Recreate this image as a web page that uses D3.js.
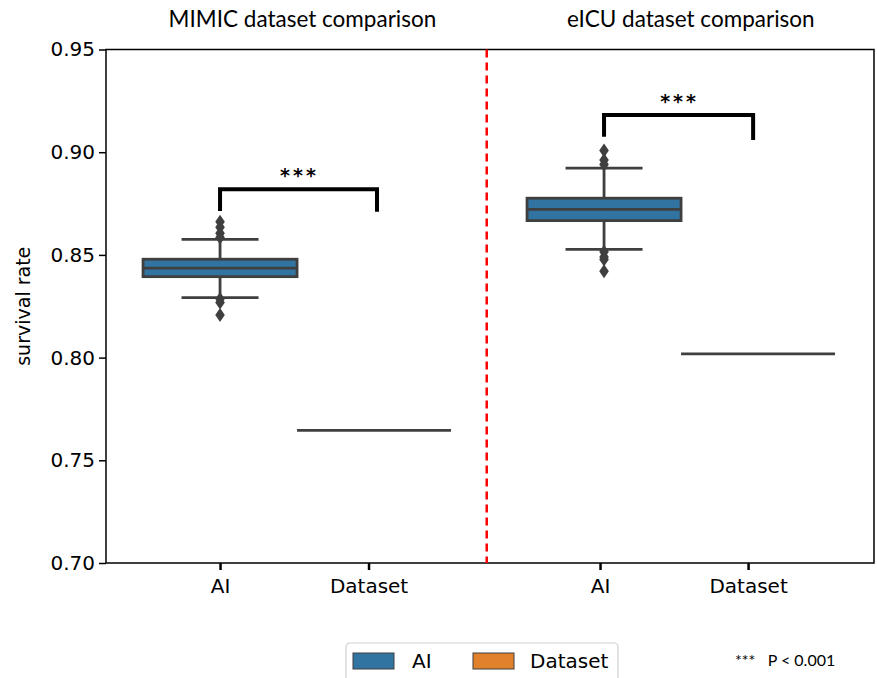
<!DOCTYPE html>
<html>
<head>
<meta charset="utf-8">
<script src="https://cdn.jsdelivr.net/npm/d3@7"></script>
<style>
  body { margin: 0; background: #fff; }
  svg { display: block; }
  .tick text { font-family: "DejaVu Sans", sans-serif; }
</style>
</head>
<body>
<svg id="chart" width="877" height="678"></svg>
<script>

// data
const panelTitles = ['MIMIC dataset comparison', 'eICU dataset comparison'];
const titlePos = [0.555, 3.17];
const tickPos = [0, 1, 2.559, 3.556];
const tickLabels = ['AI', 'Dataset', 'AI', 'Dataset'];
const yTicks = [0.70, 0.75, 0.80, 0.85, 0.90, 0.95];

const aiPos = [0, 2.586];
const aiWhiskLo = [0.8292, 0.8527];
const aiQ1 = [0.8394, 0.8667];
const aiMedian = [0.8436, 0.8722];
const aiQ3 = [0.8479, 0.8776];
const aiWhiskHi = [0.8576, 0.8922];
const aiFliers = [
	[0.8662, 0.8635, 0.8605, 0.8585, 0.8285, 0.8268, 0.8207],
	[0.9008, 0.8962, 0.8940, 0.8515, 0.8490, 0.8478, 0.8420]
];

const datasetPos = [1.037, 3.623];
const datasetRate = [0.7646, 0.8018];

const bracketTop = [0.8820, 0.9181];
const bracketLeftEnd = [0.8714, 0.9075];
const bracketRightEnd = [0.8710, 0.9060];
const bracketRight = [1.057, 3.59];

const dividerPos = 1.796;
const legendLabels = ['AI', 'Dataset'];
const palette = ['#3274a1', '#e1812c'];

const boxWidth = 1.037;
const edge = '#3f3f3f';

const margin = {left: 106, right: 3, top: 49.5, bottom: 115};
const width = 877, height = 678;

const svg = d3.select('#chart');

const x = d3.scaleLinear().domain([-0.768, 4.404]).range([margin.left, width - margin.right]);
const y = d3.scaleLinear().domain([0.70, 0.95]).range([height - margin.bottom, margin.top]);

// axes
svg.append('g')
	.attr('transform', `translate(${margin.left},0)`)
	.call(d3.axisLeft(y).tickValues(yTicks).tickFormat(d3.format('.2f')).tickSize(7).tickPadding(4))
	.call(g => g.selectAll('text').attr('font-size', 20).attr('fill', '#000'))
	.call(g => g.selectAll('line').attr('stroke-width', 1.5))
	.call(g => g.select('.domain').remove());

svg.append('g')
	.attr('transform', `translate(0,${y(0.70)})`)
	.call(d3.axisBottom(x).tickValues(tickPos).tickFormat((d,i) => tickLabels[i]).tickSize(7).tickPadding(9))
	.call(g => g.selectAll('text').attr('font-size', 20).attr('fill', '#000'))
	.call(g => g.selectAll('line').attr('stroke-width', 2.5))
	.call(g => g.select('.domain').remove());

// frame
svg.append('rect')
	.attr('x', x.range()[0]).attr('y', y.range()[1])
	.attr('width', x.range()[1] - x.range()[0])
	.attr('height', y.range()[0] - y.range()[1])
	.attr('fill', 'none').attr('stroke', '#000').attr('stroke-width', 1.5);

// divider
svg.append('line')
	.attr('x1', x(dividerPos)).attr('x2', x(dividerPos))
	.attr('y1', y(0.95)).attr('y2', y(0.70))
	.attr('stroke', '#ff0000').attr('stroke-width', 2.5)
	.attr('stroke-dasharray', '8,5');

// panel titles
svg.selectAll('.panel-title')
	.data(panelTitles)
	.enter()
	.append('text')
	.attr('class', 'panel-title')
	.attr('x', (d,i) => x(titlePos[i]))
	.attr('y', 27)
	.attr('text-anchor', 'middle')
	.attr('font-family', 'Lato, "Open Sans", sans-serif')
	.attr('font-size', 22.5)
	.text(d => d);

// y label
svg.append('text')
	.attr('transform', `translate(30,${(y(0.95)+y(0.70))/2}) rotate(-90)`)
	.attr('text-anchor', 'middle')
	.attr('font-family', '"DejaVu Sans", sans-serif')
	.attr('font-size', 19)
	.text('survival rate');

// AI boxes
const boxes = svg.selectAll('.ai-box')
	.data(aiPos)
	.enter()
	.append('g')
	.attr('class', 'ai-box');

boxes.append('line')
	.attr('x1', d => x(d)).attr('x2', d => x(d))
	.attr('y1', (d,i) => y(aiWhiskLo[i])).attr('y2', (d,i) => y(aiWhiskHi[i]))
	.attr('stroke', edge).attr('stroke-width', 2.8);

boxes.selectAll('.cap')
	.data((d,i) => [[d, aiWhiskLo[i]], [d, aiWhiskHi[i]]])
	.enter()
	.append('line')
	.attr('class', 'cap')
	.attr('x1', d => x(d[0] - boxWidth/4)).attr('x2', d => x(d[0] + boxWidth/4))
	.attr('y1', d => y(d[1])).attr('y2', d => y(d[1]))
	.attr('stroke', edge).attr('stroke-width', 2.8);

boxes.append('rect')
	.attr('x', d => x(d - boxWidth/2))
	.attr('width', x(boxWidth) - x(0))
	.attr('y', (d,i) => y(aiQ3[i]))
	.attr('height', (d,i) => y(aiQ1[i]) - y(aiQ3[i]))
	.attr('fill', palette[0]).attr('stroke', edge).attr('stroke-width', 2.8);

boxes.append('line')
	.attr('x1', d => x(d - boxWidth/2)).attr('x2', d => x(d + boxWidth/2))
	.attr('y1', (d,i) => y(aiMedian[i])).attr('y2', (d,i) => y(aiMedian[i]))
	.attr('stroke', edge).attr('stroke-width', 2.8);

const diamond = 'M0,-7L4.8,0L0,7L-4.8,0Z';
boxes.selectAll('.flier')
	.data((d,i) => aiFliers[i].map(v => [d, v]))
	.enter()
	.append('path')
	.attr('class', 'flier')
	.attr('d', diamond)
	.attr('transform', d => `translate(${x(d[0])},${y(d[1])})`)
	.attr('fill', edge);

// dataset values (single point, drawn as a flat box)
svg.selectAll('.dataset-line')
	.data(datasetPos)
	.enter()
	.append('line')
	.attr('class', 'dataset-line')
	.attr('x1', d => x(d - boxWidth/2)).attr('x2', d => x(d + boxWidth/2))
	.attr('y1', (d,i) => y(datasetRate[i])).attr('y2', (d,i) => y(datasetRate[i]))
	.attr('stroke', edge).attr('stroke-width', 2.8);

// significance brackets
const brackets = svg.selectAll('.bracket')
	.data(aiPos)
	.enter()
	.append('g')
	.attr('class', 'bracket');

brackets.append('path')
	.attr('d', (d,i) => `M${x(d)},${y(bracketLeftEnd[i])}V${y(bracketTop[i])}H${x(bracketRight[i])}V${y(bracketRightEnd[i])}`)
	.attr('fill', 'none').attr('stroke', '#000').attr('stroke-width', 4)
	.attr('stroke-linejoin', 'miter');

brackets.append('text')
	.attr('x', (d,i) => (x(d) + x(bracketRight[i]))/2 + 1)
	.attr('y', (d,i) => y(bracketTop[i]) - 7)
	.attr('text-anchor', 'middle')
	.attr('font-family', '"DejaVu Sans", sans-serif')
	.attr('font-weight', 'bold')
	.attr('font-size', 19)
	.attr('letter-spacing', 3)
	.text('***');

// legend
const legend = svg.append('g').attr('transform', 'translate(346,643)');
legend.append('rect')
	.attr('width', 272).attr('height', 50).attr('rx', 4)
	.attr('fill', '#fff').attr('stroke', '#d0d0d0').attr('stroke-width', 1.2);

const items = legend.selectAll('.legend-item')
	.data(legendLabels)
	.enter()
	.append('g')
	.attr('class', 'legend-item')
	.attr('transform', (d,i) => `translate(${7 + i*120},10)`);

items.append('rect')
	.attr('width', 41).attr('height', 16)
	.attr('fill', (d,i) => palette[i]).attr('stroke', edge).attr('stroke-width', 1);

items.append('text')
	.attr('x', (d,i) => i ? 57 : 59)
	.attr('y', 15)
	.attr('font-family', '"DejaVu Sans", sans-serif')
	.attr('font-size', 20)
	.text(d => d);

// p-value note
svg.append('text')
	.attr('x', 735).attr('y', 666)
	.attr('font-family', 'Lato, "Open Sans", sans-serif')
	.attr('font-size', 16)
	.attr('xml:space', 'preserve')
	.text('***   P < 0.001');

</script>
</body>
</html>
